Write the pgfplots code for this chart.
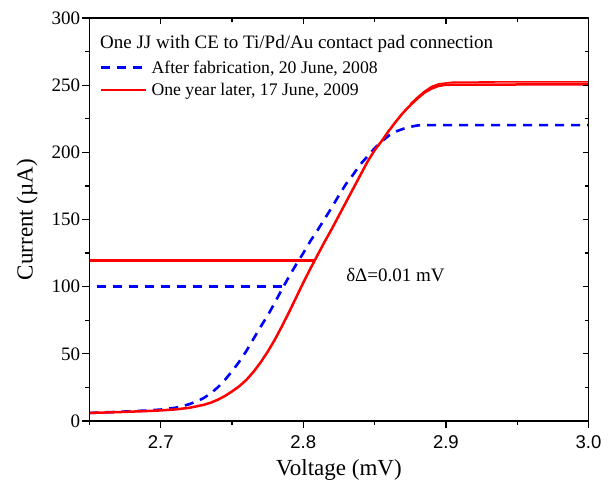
\documentclass[border=0pt]{standalone}
\usepackage{fontspec}
\setmainfont{Liberation Serif}
\newfontfamily\arial{Liberation Sans}
\usepackage{pgfplots}
\pgfplotsset{compat=1.18}
\begin{document}
\begin{tikzpicture}
\begin{axis}[
  scale only axis, width=499.1bp, height=403bp,
  xmin=2.65, xmax=3.0, ymin=0, ymax=300,
  xtick={2.7,2.8,2.9,3.0}, minor xtick={2.65,2.75,2.85,2.95},
  ytick={0,50,...,300}, minor ytick={25,75,...,275},
  xtick pos=left, ytick pos=left, tick align=outside,
  major tick length=7bp, minor tick length=4bp,
  axis line style={line width=1.2bp},
  every tick/.style={line width=1.2bp, black},
  /pgf/number format/assume math mode=true,
  xticklabel style={font=\arial\fontsize{18.5bp}{20bp}\selectfont, yshift=-4bp,
     /pgf/number format/fixed, /pgf/number format/fixed zerofill, /pgf/number format/precision=1},
  yticklabel style={font=\fontsize{19bp}{21bp}\selectfont, inner sep=2bp},
  xlabel={Voltage (mV)}, ylabel={Current (\textmu A)},
  label style={font=\fontsize{23bp}{25bp}\selectfont},
  xlabel style={at={(axis description cs:0.5,-0.134)}, anchor=base},
  ylabel style={at={(axis description cs:-0.125,0.5)}, anchor=center},
  legend style={draw=none, fill=none, at={(axis description cs:0,1)}, anchor=north west,
     xshift=10.6bp, yshift=-40.2bp, inner sep=0pt, outer sep=0pt,
     row sep=3.3bp, column sep=4bp,
     nodes={inner sep=0pt, text height=15bp, text depth=4bp, font=\fontsize{17.7bp}{20bp}\selectfont}},
  legend cell align=left,
  legend image code/.code={\draw[#1] (0bp,0bp) -- (45bp,0bp);},
  clip=true,
]
% After fabrication (blue dashed)
\addplot[blue, line width=2.6bp, dash pattern=on 9bp off 7bp] coordinates {
(2.650,6.0) (2.670,6.8) (2.690,7.8) (2.700,8.5) (2.710,9.8) (2.715,11.0)
(2.720,12.5) (2.725,14.5) (2.730,17.0) (2.735,20.5) (2.740,25.0) (2.745,30.5)
(2.750,37.0) (2.755,44.0) (2.760,52.0) (2.765,61.0) (2.770,70.0) (2.775,78.5)
(2.780,88.0) (2.785,98.0) (2.790,107.5) (2.795,116.5) (2.800,125.0) (2.805,134.0)
(2.810,142.0) (2.815,150.5) (2.820,159.0) (2.825,168.0) (2.830,176.5) (2.835,183.5)
(2.840,191.0) (2.845,197.0) (2.850,203.0) (2.855,208.0) (2.860,212.5) (2.865,215.5)
(2.870,217.5) (2.875,219.0) (2.880,220.0) (2.890,220.3) (2.950,220.3) (3.000,220.3)
};
\addlegendentry{After fabrication, 20 June, 2008}
% One year later (red solid)
\addplot[red, line width=2.5bp] coordinates {
(2.650,6.0) (2.660,6.3) (2.670,6.6) (2.680,7.0) (2.690,7.4) (2.700,7.9)
(2.710,8.6) (2.720,9.8) (2.730,12.0) (2.735,13.6) (2.740,15.8) (2.745,18.6)
(2.750,22.0) (2.755,25.8) (2.760,30.5) (2.765,36.5) (2.770,43.5) (2.775,51.5)
(2.780,60.5) (2.785,70.5) (2.790,81.0) (2.795,92.0) (2.800,103.0) (2.805,113.5)
(2.810,123.5) (2.815,133.5) (2.820,143.0) (2.825,153.0) (2.830,163.0) (2.835,173.0)
(2.840,183.0) (2.845,193.0) (2.850,201.5) (2.855,208.5) (2.860,216.0) (2.865,223.0)
(2.870,229.5) (2.875,235.0) (2.880,240.0) (2.885,244.5) (2.890,247.5) (2.895,249.5)
(2.900,250.3) (2.950,250.5) (3.000,250.5)
};
\addlegendentry{One year later, 17 June, 2009}
\addplot[red, line width=1.6bp, forget plot] coordinates {
(2.875,236.0) (2.880,241.0) (2.885,245.5) (2.890,249.0) (2.895,251.0) (2.905,252.2) (2.950,252.5) (3.000,252.5)
};
% reference lines
\addplot[blue, line width=2.6bp, dash pattern=on 9bp off 7bp, forget plot] coordinates {(2.655,100) (2.787,100)};
\addplot[red, line width=2.5bp, forget plot] coordinates {(2.650,119.5) (2.8085,119.5)};
\node[anchor=base west, inner sep=0pt, font=\fontsize{19bp}{21bp}\selectfont] at (axis description cs:0.0212,0.9248) {One JJ with CE to Ti/Pd/Au contact pad connection};
\node[anchor=base west, inner sep=0pt, font=\fontsize{19bp}{21bp}\selectfont] at (axis cs:2.83,103.5) {δΔ=0.01 mV};
\end{axis}
\begin{axis}[
  scale only axis, width=499.1bp, height=403bp,
  xmin=2.65, xmax=3.0, ymin=0, ymax=300,
  xtick={2.7,2.8,2.9,3.0}, minor xtick={2.65,2.75,2.85,2.95},
  ytick={0,50,...,300}, minor ytick={25,75,...,275},
  xtick pos=right, ytick pos=right, tick align=inside,
  major tick length=6bp, minor tick length=4bp,
  axis line style={line width=1.2bp},
  every tick/.style={line width=1.2bp, black},
  xticklabels={}, yticklabels={},
]
\end{axis}
\pgfresetboundingbox
\path[use as bounding box] (-89.4bp,-62bp) rectangle (526.6bp,421bp);
\end{tikzpicture}
\end{document}
